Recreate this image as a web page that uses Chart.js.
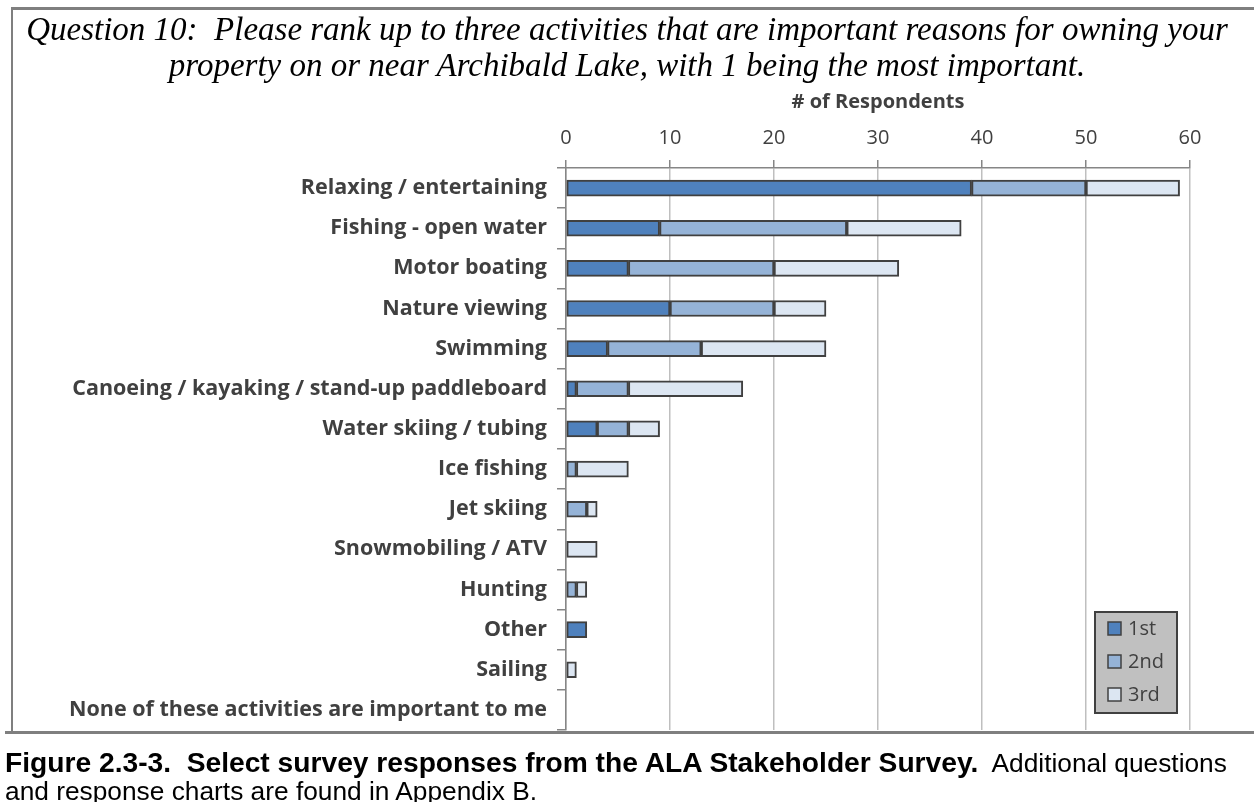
<!DOCTYPE html>
<html lang="en">
<head>
    <meta charset="UTF-8">
    <title>Question 10 - Activities</title>
    <script src="https://cdn.jsdelivr.net/npm/chart.js"></script>
    <style>
        body {
            margin: 0;
            width: 1254px;
            height: 802px;
            background: #fff;
            position: relative;
            overflow: hidden;
        }
        #chart-box {
            position: absolute;
            left: 0;
            top: 0;
            width: 1254px;
            height: 802px;
        }
        .rule {
            position: absolute;
            background: #7f7f7f;
        }
        .title-line {
            position: absolute;
            left: 0;
            width: 1254px;
            text-align: center;
            font-family: "Liberation Serif", serif;
            font-style: italic;
            font-size: 33px;
            line-height: 33px;
            color: #000;
            white-space: nowrap;
        }
        .caption {
            position: absolute;
            left: 5px;
            font-family: "Liberation Sans", Arial, sans-serif;
            font-size: 26.3px;
            line-height: 28px;
            color: #000;
            white-space: nowrap;
        }
        .caption b {
            font-size: 28.2px;
        }
    </style>
</head>
<body>
    <div id="chart-box"><canvas id="activityChart" width="1254" height="802"></canvas></div>

    <!-- frame -->
    <div class="rule" style="left:12px; top:7px; width:1242px; height:3px;"></div>
    <div class="rule" style="left:11px; top:7px; width:2px; height:726px;"></div>
    <div class="rule" style="left:5px; top:731px; width:1249px; height:3px;"></div>

    <div class="title-line" style="top:13px;">Question 10:&nbsp; Please rank up to three activities that are important reasons for owning your</div>
    <div class="title-line" style="top:49px;">property on or near Archibald Lake, with 1 being the most important.</div>

    <div class="caption" style="top:748px;"><b>Figure 2.3-3.&nbsp; Select survey responses from the ALA Stakeholder Survey.</b>&nbsp; Additional questions</div>
    <div class="caption" style="top:777px;">and response charts are found in Appendix B.</div>

    <script>
        const activities = [
            'Relaxing / entertaining',
            'Fishing - open water',
            'Motor boating',
            'Nature viewing',
            'Swimming',
            'Canoeing / kayaking / stand-up paddleboard',
            'Water skiing / tubing',
            'Ice fishing',
            'Jet skiing',
            'Snowmobiling / ATV',
            'Hunting',
            'Other',
            'Sailing',
            'None of these activities are important to me'
        ];
        const rank1st = [39, 9, 6, 10, 4, 1, 3, 0, 0, 0, 0, 2, 0, 0];
        const rank2nd = [11, 18, 14, 10, 9, 5, 3, 1, 2, 0, 1, 0, 0, 0];
        const rank3rd = [9, 11, 12, 5, 12, 11, 3, 5, 1, 3, 1, 0, 1, 0];
        const xTicks = [0, 10, 20, 30, 40, 50, 60];

        const rankLabels = ['1st', '2nd', '3rd'];
        const rankColors = ['#4f81bd', '#95b3d7', '#dce6f2'];
        const edgeColor = '#404040';
        const axisGray = '#868686';

        // legend box sitting inside the lower right of the plot
        const insideLegend = {
            id: 'insideLegend',
            afterDraw(chart) {
                const { ctx, chartArea } = chart;
                const w = 82, h = 101;
                const x = chartArea.right - 13 - w;
                const y = chartArea.bottom - 17 - h;
                ctx.save();
                ctx.fillStyle = '#c0c0c0';
                ctx.fillRect(x, y, w, h);
                ctx.lineWidth = 2;
                ctx.strokeStyle = edgeColor;
                ctx.strokeRect(x, y, w, h);
                ctx.font = '20px "Open Sans", sans-serif';
                ctx.textBaseline = 'middle';
                chart.data.datasets.forEach((ds, i) => {
                    const cy = y + 17 + i * 33;
                    ctx.fillStyle = ds.backgroundColor;
                    ctx.fillRect(x + 13, cy - 7, 13, 13);
                    ctx.lineWidth = 1.5;
                    ctx.strokeStyle = edgeColor;
                    ctx.strokeRect(x + 13, cy - 7, 13, 13);
                    ctx.fillStyle = '#404040';
                    ctx.fillText(ds.label, x + 33, cy);
                });
                ctx.restore();
            }
        };

        const seriesValues = [rank1st, rank2nd, rank3rd];

        new Chart(document.getElementById('activityChart'), {
            type: 'bar',
            data: {
                labels: activities,
                datasets: seriesValues.map((vals, i) => ({
                    label: rankLabels[i],
                    data: vals,
                    backgroundColor: rankColors[i],
                    borderColor: edgeColor,
                    borderWidth: 2,
                    borderSkipped: false,
                    barThickness: 16
                }))
            },
            options: {
                indexAxis: 'y',
                responsive: false,
                animation: false,
                layout: { padding: { top: 90, right: 64, bottom: 72, left: 0 } },
                plugins: {
                    legend: { display: false },
                    tooltip: { enabled: false }
                },
                scales: {
                    x: {
                        position: 'top',
                        stacked: true,
                        min: 0,
                        max: 60,
                        afterBuildTicks(scale) {
                            scale.ticks = xTicks.map(v => ({ value: v }));
                        },
                        ticks: {
                            color: '#404040',
                            font: { family: '"Open Sans", sans-serif', size: 20 },
                            padding: 10
                        },
                        grid: {
                            color: '#bfbfbf',
                            lineWidth: 1.5,
                            tickColor: axisGray,
                            tickLength: 8
                        },
                        border: { color: axisGray, width: 1.5 },
                        title: {
                            display: true,
                            text: '# of Respondents',
                            color: '#404040',
                            font: { family: '"Open Sans", sans-serif', size: 20, weight: 'bold' },
                            padding: { top: 0, bottom: 2 }
                        }
                    },
                    y: {
                        stacked: true,
                        afterFit(scale) {
                            scale.width = 566;
                        },
                        ticks: {
                            color: '#404040',
                            font: { family: '"Open Sans", sans-serif', size: 21.5, weight: 'bold' },
                            padding: 10
                        },
                        grid: {
                            offset: true,
                            color: ctx => ctx.index === activities.length ? '#bfbfbf' : 'rgba(0,0,0,0)',
                            lineWidth: 1.5,
                            tickColor: axisGray,
                            tickLength: 9
                        },
                        border: { color: axisGray, width: 1.5 }
                    }
                }
            },
            plugins: [insideLegend]
        });
    </script>
</body>
</html>
